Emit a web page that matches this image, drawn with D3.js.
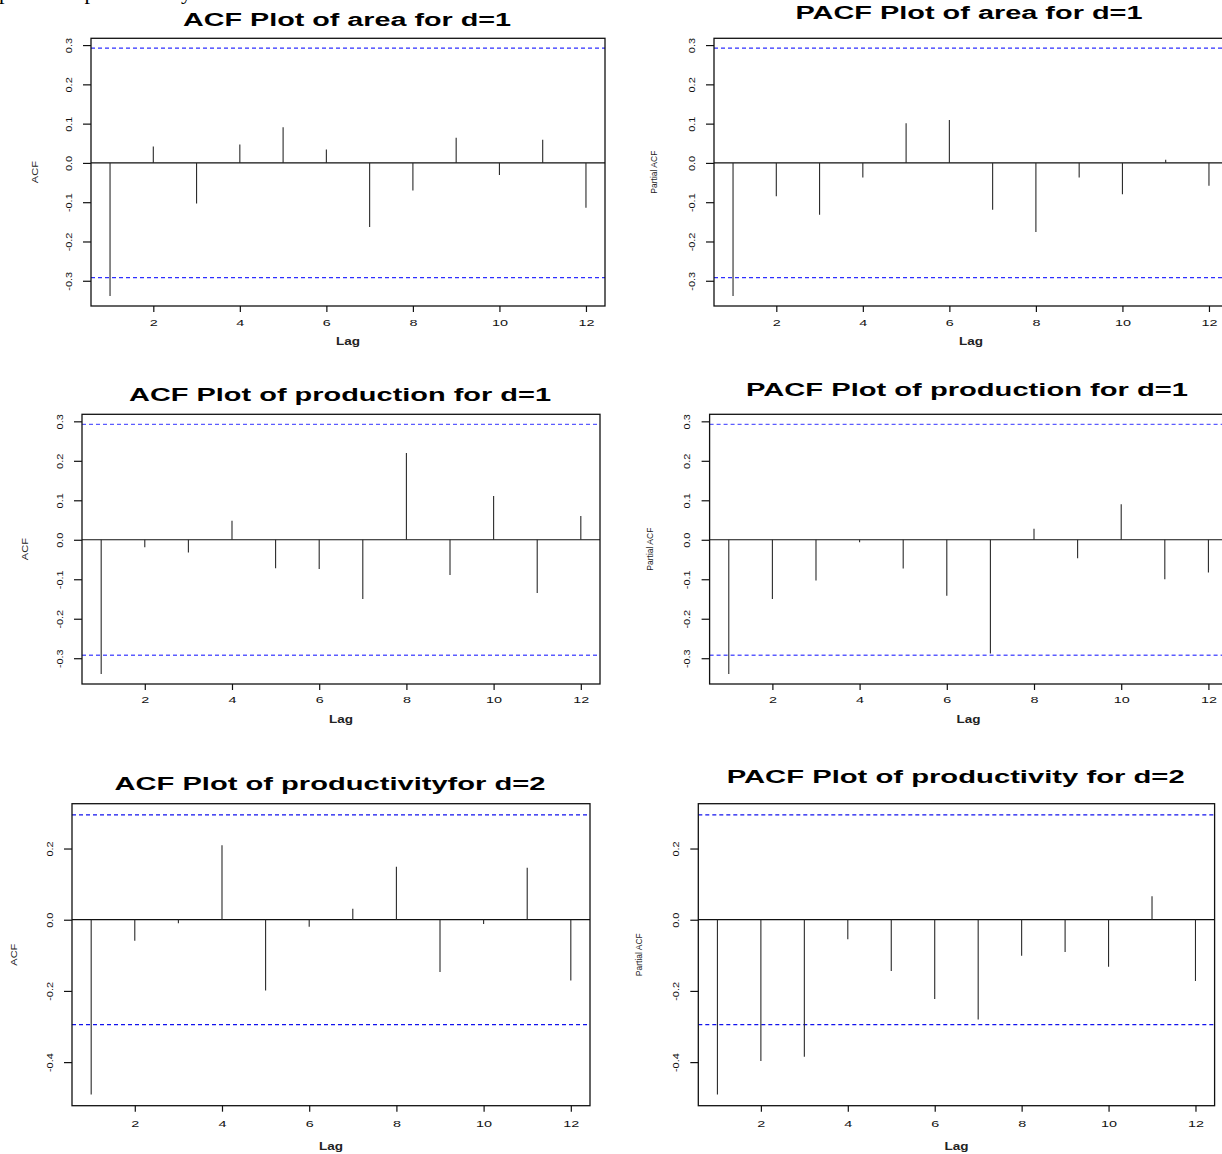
<!DOCTYPE html>
<html>
<head>
<meta charset="utf-8">
<script src="https://cdn.jsdelivr.net/npm/d3@7"></script>
<style>
body { margin: 0; background: #fff; }
svg { display: block; }
</style>
</head>
<body>
<div id="chart-area"></div>
<script>
// lags and correlation values
var lags = [1, 2, 3, 4, 5, 6, 7, 8, 9, 10, 11, 12];

var acfArea = [-0.339, 0.042, -0.103, 0.047, 0.091, 0.034, -0.163, -0.070, 0.064, -0.031, 0.059, -0.114];
var pacfArea = [-0.339, -0.085, -0.132, -0.037, 0.101, 0.109, -0.119, -0.176, -0.037, -0.080, 0.008, -0.058];
var acfProduction = [-0.340, -0.019, -0.032, 0.048, -0.072, -0.074, -0.150, 0.220, -0.089, 0.111, -0.135, 0.060];
var pacfProduction = [-0.340, -0.150, -0.103, -0.006, -0.073, -0.142, -0.288, 0.028, -0.047, 0.090, -0.100, -0.083];
var acfProductivity = [-0.491, -0.059, -0.010, 0.209, -0.199, -0.020, 0.031, 0.149, -0.147, -0.012, 0.146, -0.171];
var pacfProductivity = [-0.491, -0.397, -0.385, -0.055, -0.144, -0.223, -0.280, -0.101, -0.091, -0.132, 0.066, -0.172];

// 95% bounds
var confArea = 0.292;
var confProduction = 0.2925;
var confProductivity = 0.2945;

var xTicks = [2, 4, 6, 8, 10, 12];
var yTicksD1 = [-0.3, -0.2, -0.1, 0.0, 0.1, 0.2, 0.3];
var yTickLabelsD1 = ["-0.3", "-0.2", "-0.1", "0.0", "0.1", "0.2", "0.3"];
var yTicksD2 = [-0.4, -0.2, 0.0, 0.2];
var yTickLabelsD2 = ["-0.4", "-0.2", "0.0", "0.2"];

var width = 1222;
var height = 1154;

var svg = d3.select("#chart-area").append("svg")
	.attr("width", width)
	.attr("height", height);

// cut-off caption line at the very top of the page
svg.append("text")
	.attr("x", -1)
	.attr("y", -1)
	.attr("font-family", "Liberation Serif, Times New Roman, serif")
	.attr("font-size", 22)
	.attr("fill", "#000")
	.text("plots and productivity");

var panels = [
	{title: "ACF Plot of area for d=1", ylab: "ACF", values: acfArea, conf: confArea,
		yTicks: yTicksD1, yLabels: yTickLabelsD1,
		left: 91, right: 605, top: 38.3, bottom: 306,
		titleX: 347, titleY: 25.7, titleW: 328, ylabX: 35, tickDy: 19.5, lagDy: 38.5, blue: "#2f2fff"},
	{title: "PACF Plot of area for d=1", ylab: "Partial ACF", values: pacfArea, conf: confArea,
		yTicks: yTicksD1, yLabels: yTickLabelsD1,
		left: 714, right: 1228, top: 38.3, bottom: 306,
		titleX: 969, titleY: 19.3, titleW: 347, ylabX: 654, tickDy: 19.5, lagDy: 38.5, blue: "#2f2fff"},
	{title: "ACF Plot of production for d=1", ylab: "ACF", values: acfProduction, conf: confProduction,
		yTicks: yTicksD1, yLabels: yTickLabelsD1,
		left: 82, right: 600, top: 414.3, bottom: 684,
		titleX: 340, titleY: 401, titleW: 422, ylabX: 25, tickDy: 19.3, lagDy: 39, blue: "#5c5cff"},
	{title: "PACF Plot of production for d=1", ylab: "Partial ACF", values: pacfProduction, conf: confProduction,
		yTicks: yTicksD1, yLabels: yTickLabelsD1,
		left: 709.6, right: 1227.6, top: 414.3, bottom: 684,
		titleX: 967, titleY: 395.7, titleW: 442, ylabX: 650, tickDy: 19.3, lagDy: 39, blue: "#5c5cff"},
	{title: "ACF Plot of productivityfor d=2", ylab: "ACF", values: acfProductivity, conf: confProductivity,
		yTicks: yTicksD2, yLabels: yTickLabelsD2,
		left: 72, right: 590, top: 803.7, bottom: 1105.7,
		titleX: 330, titleY: 790, titleW: 431, ylabX: 14, tickDy: 21, lagDy: 44, blue: "#1212ee"},
	{title: "PACF Plot of productivity for d=2", ylab: "Partial ACF", values: pacfProductivity, conf: confProductivity,
		yTicks: yTicksD2, yLabels: yTickLabelsD2,
		left: 698.3, right: 1214.6, top: 803.7, bottom: 1105.7,
		titleX: 955.7, titleY: 782.7, titleW: 458, ylabX: 639, tickDy: 21, lagDy: 44, blue: "#1212ee"}
];

var font = "Liberation Sans, Arial, Helvetica, sans-serif";

panels.forEach(function(p) {
	var g = svg.append("g");

	// R style limits: data range plus 4% on each side
	var xr = d3.extent(lags);
	var xpad = (xr[1] - xr[0]) * 0.04;
	var x = d3.scaleLinear()
		.domain([xr[0] - xpad, xr[1] + xpad])
		.range([p.left, p.right]);

	var yr = d3.extent(p.values.concat([p.conf, -p.conf]));
	var ypad = (yr[1] - yr[0]) * 0.04;
	var y = d3.scaleLinear()
		.domain([yr[0] - ypad, yr[1] + ypad])
		.range([p.bottom, p.top]);

	// title
	g.append("text")
		.attr("x", p.titleX)
		.attr("y", p.titleY)
		.attr("text-anchor", "middle")
		.attr("font-family", font)
		.attr("font-weight", "bold")
		.attr("font-size", 17.5)
		.attr("textLength", p.titleW)
		.attr("lengthAdjust", "spacingAndGlyphs")
		.text(p.title);

	// confidence bounds
	g.selectAll("line.conf")
		.data([p.conf, -p.conf])
		.enter()
		.append("line")
		.attr("class", "conf")
		.attr("x1", p.left)
		.attr("x2", p.right)
		.attr("y1", function(d) { return y(d); })
		.attr("y2", function(d) { return y(d); })
		.attr("stroke", p.blue)
		.attr("stroke-width", 1.3)
		.attr("stroke-dasharray", "4,3");

	// zero line
	g.append("line")
		.attr("x1", p.left)
		.attr("x2", p.right)
		.attr("y1", y(0))
		.attr("y2", y(0))
		.attr("stroke", "#111")
		.attr("stroke-width", 1.2);

	// spikes
	g.selectAll("line.spike")
		.data(p.values)
		.enter()
		.append("line")
		.attr("class", "spike")
		.attr("x1", function(d, i) { return x(lags[i]); })
		.attr("x2", function(d, i) { return x(lags[i]); })
		.attr("y1", y(0))
		.attr("y2", function(d) { return y(d); })
		.attr("stroke", "#2a2a2a")
		.attr("stroke-width", 1.1);

	// box
	g.append("rect")
		.attr("x", p.left)
		.attr("y", p.top)
		.attr("width", p.right - p.left)
		.attr("height", p.bottom - p.top)
		.attr("fill", "none")
		.attr("stroke", "#111")
		.attr("stroke-width", 1.3);

	// y axis
	var yAxis = g.append("g")
		.attr("transform", "translate(" + p.left + ",0)")
		.call(d3.axisLeft(y)
			.tickValues(p.yTicks)
			.tickSize(8)
			.tickFormat(function(d, i) { return p.yLabels[i]; }));
	yAxis.select(".domain").remove();
	yAxis.selectAll("line").attr("stroke", "#111").attr("stroke-width", 1.2);
	yAxis.selectAll("text")
		.attr("x", null)
		.attr("dy", null)
		.attr("text-anchor", "middle")
		.attr("font-family", font)
		.attr("font-size", 9.5)
		.attr("fill", "#111")
		.attr("transform", "translate(-19.5,0) rotate(-90) scale(1.15,1)");

	// x axis
	var xAxis = g.append("g")
		.attr("transform", "translate(0," + p.bottom + ")")
		.call(d3.axisBottom(x)
			.tickValues(xTicks)
			.tickSize(6)
			.tickFormat(d3.format("d")));
	xAxis.select(".domain").remove();
	xAxis.selectAll("line").attr("stroke", "#111").attr("stroke-width", 1.2);
	xAxis.selectAll("text")
		.attr("y", null)
		.attr("dy", null)
		.attr("font-family", font)
		.attr("font-size", 9)
		.attr("fill", "#111")
		.attr("transform", "translate(0," + p.tickDy + ") scale(1.6,1)");

	// axis labels
	g.append("text")
		.attr("x", (p.left + p.right) / 2)
		.attr("y", p.bottom + p.lagDy)
		.attr("text-anchor", "middle")
		.attr("font-family", font)
		.attr("font-weight", "bold")
		.attr("font-size", 10)
		.attr("fill", "#222")
		.attr("textLength", 24)
		.attr("lengthAdjust", "spacingAndGlyphs")
		.text("Lag");

	g.append("text")
		.attr("text-anchor", "middle")
		.attr("font-family", font)
		.attr("font-size", 8.5)
		.attr("fill", "#222")
		.attr("textLength", p.ylab === "ACF" ? 22 : 43)
		.attr("lengthAdjust", "spacingAndGlyphs")
		.attr("transform", "translate(" + (p.ylabX + 3) + "," + ((p.top + p.bottom) / 2) + ") rotate(-90)")
		.text(p.ylab);
});
</script>
</body>
</html>
